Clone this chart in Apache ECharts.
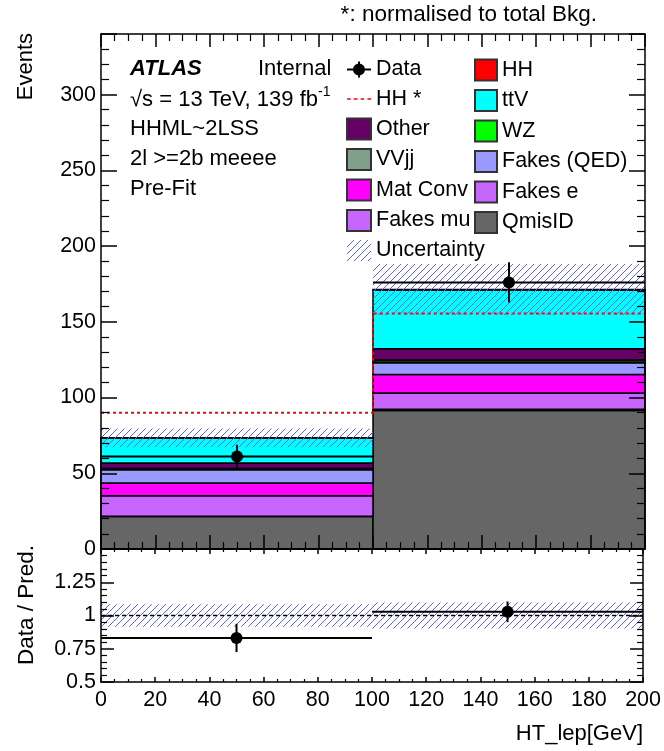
<!DOCTYPE html>
<html>
<head>
<meta charset="utf-8">
<script src="https://cdn.jsdelivr.net/npm/echarts@6/dist/echarts.min.js"></script>
<style>html,body{margin:0;padding:0;background:#fff;}#c{width:664px;height:751px;}</style>
</head>
<body>
<div id="c"></div>
<script>
// ---- data ----
const binEdges = [0, 100, 200];
const qmisid   = [21.4, 91.5];
const fakesMu  = [0.3, 0.8];
const fakesE   = [13.4, 10.7];
const matConv  = [8.4, 12.2];
const fakesQED = [8.8, 7.7];
const vvjj     = [0.4, 0.6];
const wz       = [0.5, 1.3];
const other    = [3.5, 7.4];
const ttV      = [16.6, 38.8];
const hh       = [0.1, 0.3];
const dataVals = [61, 176];
const dataErr  = [7.8, 13.3];
const hhNorm   = [90.0, 155.5];
const bkgUnc   = [6.2, 16.8];

const FONT = 'Liberation Sans';

// stack order bottom -> top
const stackDef = [
  ['QmisID', qmisid, '#666666'],
  ['Fakes mu', fakesMu, '#c864ff'],
  ['Fakes e', fakesE, '#c864ff'],
  ['Mat Conv', matConv, '#ff00ff'],
  ['Fakes (QED)', fakesQED, '#9999ff'],
  ['VVjj', vvjj, '#80a08a'],
  ['WZ', wz, '#00ff00'],
  ['Other', other, '#660066'],
  ['ttV', ttV, '#00ffff'],
  ['HH', hh, '#ff0000']
];

function hatch() {
  const c = document.createElement('canvas');
  c.width = 7; c.height = 7;
  const g = c.getContext('2d');
  g.strokeStyle = '#5c5cff';
  g.lineWidth = 1;
  g.beginPath();
  g.moveTo(0, 7); g.lineTo(7, 0);
  g.moveTo(-1, 1); g.lineTo(1, -1);
  g.moveTo(6, 8); g.lineTo(8, 6);
  g.stroke();
  return { image: c, repeat: 'repeat' };
}
const HATCH = hatch();

const nb = dataVals.length;
const cum = new Array(nb).fill(0);
const series = [];

function stackRender(params, api) {
  const lo = api.coord([api.value(0), api.value(2)]);
  const hi = api.coord([api.value(1), api.value(3)]);
  return {
    type: 'rect',
    shape: { x: lo[0], y: hi[1], width: hi[0] - lo[0], height: lo[1] - hi[1] },
    style: { fill: api.visual('color'), stroke: '#000', lineWidth: 1.5 }
  };
}
stackDef.forEach(([name, arr, color]) => {
  const d = [];
  for (let i = 0; i < nb; i++) {
    d.push([binEdges[i], binEdges[i + 1], cum[i], cum[i] + arr[i]]);
    cum[i] += arr[i];
  }
  series.push({
    name, type: 'custom', xAxisIndex: 0, yAxisIndex: 0,
    renderItem: stackRender,
    itemStyle: { color, borderColor: '#333', borderWidth: 1 },
    encode: { x: [0, 1], y: [2, 3] },
    data: d, z: 2
  });
});
const total = cum.slice();

// HH normalised (dashed step line)
const hhPts = [];
for (let i = 0; i < nb; i++) hhPts.push([binEdges[i], hhNorm[i]]);
hhPts.push([binEdges[nb], hhNorm[nb - 1]]);
series.push({
  name: 'HH *', type: 'line', xAxisIndex: 0, yAxisIndex: 0, step: 'end',
  data: hhPts, symbol: 'none', showSymbol: false,
  itemStyle: { color: '#ff0000' },
  lineStyle: { color: '#ff0000', width: 2, type: [3, 3] }, z: 4
});

function bandRender(params, api) {
  const lo = api.coord([api.value(0), api.value(2)]);
  const hi = api.coord([api.value(1), api.value(3)]);
  return {
    type: 'rect',
    shape: { x: lo[0], y: hi[1], width: hi[0] - lo[0], height: lo[1] - hi[1] },
    style: { fill: HATCH }
  };
}
const bandMain = [], bandRatio = [];
for (let i = 0; i < nb; i++) {
  bandMain.push([binEdges[i], binEdges[i + 1], total[i] - bkgUnc[i], total[i] + bkgUnc[i]]);
  bandRatio.push([binEdges[i], binEdges[i + 1], 1 - bkgUnc[i] / total[i], 1 + bkgUnc[i] / total[i]]);
}
series.push({
  name: 'Uncertainty', type: 'custom', xAxisIndex: 0, yAxisIndex: 0,
  renderItem: bandRender, itemStyle: { color: HATCH, borderWidth: 0 },
  encode: { x: [0, 1], y: [2, 3] }, data: bandMain, z: 5
});

function pointsRender(params, api) {
  const xc = api.value(0), y = api.value(1), e = api.value(2), x0 = api.value(3), x1 = api.value(4);
  const c = api.coord([xc, y]), l = api.coord([x0, y]), r = api.coord([x1, y]);
  const t = api.coord([xc, y + e]), b = api.coord([xc, y - e]);
  return {
    type: 'group', children: [
      { type: 'line', shape: { x1: l[0], y1: l[1], x2: r[0], y2: r[1] }, style: { stroke: '#000', lineWidth: 2 } },
      { type: 'line', shape: { x1: t[0], y1: t[1], x2: b[0], y2: b[1] }, style: { stroke: '#000', lineWidth: 2 } },
      { type: 'circle', shape: { cx: c[0], cy: c[1], r: 6 }, style: { fill: '#000' } }
    ]
  };
}
const dataMain = [], dataRatio = [];
for (let i = 0; i < nb; i++) {
  const xc = (binEdges[i] + binEdges[i + 1]) / 2;
  dataMain.push([xc, dataVals[i], dataErr[i], binEdges[i], binEdges[i + 1]]);
  dataRatio.push([xc, dataVals[i] / total[i], dataErr[i] / total[i], binEdges[i], binEdges[i + 1]]);
}
series.push({
  name: 'Data', type: 'custom', xAxisIndex: 0, yAxisIndex: 0,
  renderItem: pointsRender, itemStyle: { color: '#000' },
  encode: { x: [0, 3, 4], y: [1] }, data: dataMain, z: 6
});

// ratio panel
series.push({
  name: 'UncRatio', type: 'custom', xAxisIndex: 2, yAxisIndex: 2,
  renderItem: bandRender, itemStyle: { color: HATCH },
  encode: { x: [0, 1], y: [2, 3] }, data: bandRatio, z: 3
});
series.push({
  name: 'Unity', type: 'line', xAxisIndex: 2, yAxisIndex: 2,
  data: [[binEdges[0], 1], [binEdges[nb], 1]], symbol: 'none',
  lineStyle: { color: '#000', width: 1.5, type: [4, 3] }, z: 4
});
series.push({
  name: 'DataRatio', type: 'custom', xAxisIndex: 2, yAxisIndex: 2,
  renderItem: pointsRender, itemStyle: { color: '#000' },
  encode: { x: [0, 3, 4], y: [1] }, data: dataRatio, z: 6
});

function xAxisDef(grid, pos, labels, len, mlen) {
  return {
    gridIndex: grid, type: 'value', position: pos, min: 0, max: 200, interval: 20, z: 10,
    axisLine: { onZero: false, lineStyle: { color: '#000', width: 1.5 } },
    axisTick: { inside: true, length: len, lineStyle: { color: '#000', width: 1.5 } },
    minorTick: { show: true, splitNumber: 4, length: mlen, lineStyle: { color: '#000', width: 1.2 } },
    splitLine: { show: false },
    axisLabel: { show: labels, color: '#000', fontFamily: FONT, fontSize: 21.5, margin: 7 }
  };
}
function yAxisDef(grid, pos, labels, min, max, itv, len, mlen, fmt) {
  return {
    gridIndex: grid, type: 'value', position: pos, min, max, interval: itv, z: 10,
    axisLine: { onZero: false, lineStyle: { color: '#000', width: 1.5 } },
    axisTick: { inside: true, length: len, lineStyle: { color: '#000', width: 1.5 } },
    minorTick: { show: true, splitNumber: 5, length: mlen, lineStyle: { color: '#000', width: 1.2 } },
    splitLine: { show: false },
    axisLabel: { show: labels, color: '#000', fontFamily: FONT, fontSize: 21.5, margin: 5, formatter: fmt }
  };
}
const mainFmt = v => (v % 50 === 0 ? String(v) : '');
const ratioFmt = v => (v >= 1.5 ? '' : String(v));

const legendText = { color: '#000', fontFamily: FONT, fontSize: 21.5, lineHeight: 21 };
const dataIcon = 'path://M0,10 L24,10 L24,12 L0,12 Z M11,3 L13,3 L13,19 L11,19 Z M6,11 A6,6 0 1,1 18,11 A6,6 0 1,1 6,11 Z';
const dashIcon = 'path://M0,0 L3.5,0 L3.5,1.5 L0,1.5 Z M6.5,0 L10,0 L10,1.5 L6.5,1.5 Z M13,0 L16.5,0 L16.5,1.5 L13,1.5 Z M19.5,0 L23,0 L23,1.5 L19.5,1.5 Z';

const option = {
  animation: false,
  backgroundColor: '#fff',
  grid: [
    { left: 101, top: 34, width: 544, height: 515, containLabel: false },
    { left: 101, top: 549, width: 544, height: 133, containLabel: false }
  ],
  xAxis: [
    xAxisDef(0, 'bottom', false, 14, 7),
    xAxisDef(0, 'top', false, 13, 7),
    xAxisDef(1, 'bottom', true, 5, 3),
    xAxisDef(1, 'top', false, 5, 3)
  ],
  yAxis: [
    yAxisDef(0, 'left', true, 0, 340, 50, 16, 8, mainFmt),
    yAxisDef(0, 'right', false, 0, 340, 50, 16, 8, mainFmt),
    yAxisDef(1, 'left', true, 0.5, 1.5, 0.25, 13, 6, ratioFmt),
    yAxisDef(1, 'right', false, 0.5, 1.5, 0.25, 13, 6, ratioFmt)
  ],
  legend: [
    {
      left: 346, top: 58.5, orient: 'vertical', itemWidth: 24, itemHeight: 21, itemGap: 7.5,
      padding: 0, selectedMode: false, textStyle: legendText,
      data: [
        { name: 'Data', icon: dataIcon, itemStyle: { color: '#000', borderWidth: 0 } },
        { name: 'HH *', icon: dashIcon, itemStyle: { color: '#ff0000', borderWidth: 0 } },
        { name: 'Other', icon: 'rect' },
        { name: 'VVjj', icon: 'rect' },
        { name: 'Mat Conv', icon: 'rect' },
        { name: 'Fakes mu', icon: 'rect' },
        { name: 'Uncertainty', icon: 'rect', itemStyle: { borderWidth: 0 } }
      ]
    },
    {
      left: 474, top: 58.5, orient: 'vertical', itemWidth: 22, itemHeight: 21, itemGap: 7.5,
      padding: 0, selectedMode: false, textStyle: legendText, icon: 'rect',
      data: ['HH', 'ttV', 'WZ', 'Fakes (QED)', 'Fakes e', 'QmisID']
    }
  ],
  graphic: [
    { type: 'text', x: 597, y: 15, style: { text: '*: normalised to total Bkg.', font: '22.5px ' + FONT, fill: '#000', align: 'right', verticalAlign: 'middle' } },
    { type: 'text', x: 25.5, y: 33, rotation: Math.PI / 2, style: { text: 'Events', font: '22px ' + FONT, fill: '#000', align: 'right', verticalAlign: 'middle' } },
    { type: 'text', x: 26.5, y: 545, rotation: Math.PI / 2, style: { text: 'Data / Pred.', font: '22.5px ' + FONT, fill: '#000', align: 'right', verticalAlign: 'middle' } },
    { type: 'text', x: 643, y: 734, style: { text: 'HT_lep[GeV]', font: '22px ' + FONT, fill: '#000', align: 'right', verticalAlign: 'middle' } },
    { type: 'text', x: 130, y: 68.5, style: { text: 'ATLAS', font: 'italic bold 22px ' + FONT, fill: '#000', align: 'left', verticalAlign: 'middle' } },
    { type: 'text', x: 258, y: 68.5, style: { text: 'Internal', font: '22px ' + FONT, fill: '#000', align: 'left', verticalAlign: 'middle' } },
    { type: 'text', x: 130, y: 98, style: {
        text: '{n|√s = 13 TeV, 139 fb}{s|-1}', align: 'left', verticalAlign: 'middle',
        rich: { n: { fontSize: 22, fontFamily: FONT, fill: '#000', lineHeight: 25, verticalAlign: 'bottom' },
                s: { fontSize: 14, fontFamily: FONT, fill: '#000', lineHeight: 25, verticalAlign: 'top' } } } },
    { type: 'text', x: 130, y: 128.5, style: { text: 'HHML~2LSS', font: '22px ' + FONT, fill: '#000', align: 'left', verticalAlign: 'middle' } },
    { type: 'text', x: 130, y: 158.5, style: { text: '2l >=2b meeee', font: '22px ' + FONT, fill: '#000', align: 'left', verticalAlign: 'middle' } },
    { type: 'text', x: 130, y: 188.5, style: { text: 'Pre-Fit', font: '22px ' + FONT, fill: '#000', align: 'left', verticalAlign: 'middle' } }
  ],
  series
};

const chart = echarts.init(document.getElementById('c'), null, { renderer: 'canvas' });
chart.setOption(option);
</script>
</body>
</html>
